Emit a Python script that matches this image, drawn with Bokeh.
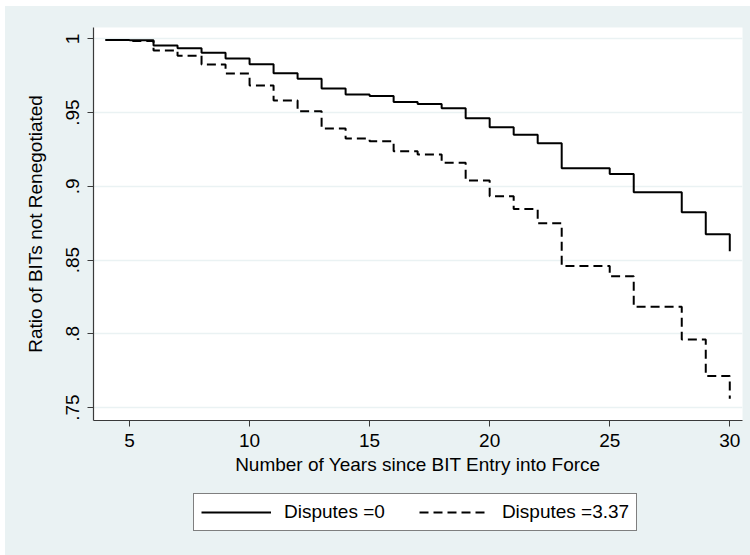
from bokeh.plotting import figure
from bokeh.models import Range1d, FixedTicker, Legend, LegendItem
from bokeh.layouts import column
from bokeh.embed import file_html
from bokeh.resources import INLINE

# Data
years = [4, 5, 6, 7, 8, 9, 10, 11, 12, 13, 14, 15, 16, 17, 18, 19, 20,
         21, 22, 23, 24, 25, 26, 27, 28, 29, 30]
surv_disputes_0 = [0.9993, 0.9991, 0.9955, 0.9937, 0.9905, 0.9866, 0.9828,
                   0.9767, 0.9729, 0.9663, 0.9622, 0.9613, 0.9572, 0.9559,
                   0.9530, 0.9462, 0.9400, 0.9349, 0.9292, 0.9123, 0.9123,
                   0.9083, 0.8960, 0.8960, 0.8824, 0.8675, 0.8560]
surv_disputes_337 = [0.9993, 0.9985, 0.9921, 0.9885, 0.9826, 0.9765, 0.9684,
                     0.9582, 0.9509, 0.9392, 0.9324, 0.9306, 0.9238, 0.9216,
                     0.9160, 0.9040, 0.8932, 0.8846, 0.8750, 0.8460, 0.8460,
                     0.8390, 0.8183, 0.8183, 0.7961, 0.7713, 0.7560]
x_ticks = [5, 10, 15, 20, 25, 30]
y_ticks = [0.75, 0.8, 0.85, 0.9, 0.95, 1.0]
y_tick_labels = [".75", ".8", ".85", ".9", ".95", "1"]
series_labels = ["Disputes =0", "Disputes =3.37"]

FONT = "Liberation Sans"
BG = "#EAF2F3"
DASH = "9 5"

p = figure(width=745, height=479, output_backend="svg", toolbar_location=None,
           x_range=Range1d(3.5, 30.53), y_range=Range1d(0.7412, 1.0077),
           min_border_left=88, min_border_right=8, min_border_top=21,
           min_border_bottom=65)
p.background_fill_color = "white"
p.border_fill_color = BG
p.outline_line_color = None

p.step(years, surv_disputes_0, mode="after", line_color="black", line_width=2)
p.step(years, surv_disputes_337, mode="after", line_color="black", line_width=2,
       line_dash=DASH)

# Axes
for ax in (p.xaxis[0], p.yaxis[0]):
    ax.axis_line_color = "#3a3a3a"
    ax.axis_line_width = 1.2
    ax.major_tick_line_color = "#3a3a3a"
    ax.major_tick_out = 6
    ax.major_tick_in = 0
    ax.minor_tick_line_color = None
    ax.major_label_text_font = FONT
    ax.major_label_text_font_size = "19px"
    ax.major_label_text_color = "black"
    ax.axis_label_text_font = FONT
    ax.axis_label_text_font_size = "19px"
    ax.axis_label_text_font_style = "normal"
    ax.axis_label_text_color = "black"

p.xaxis.ticker = FixedTicker(ticks=x_ticks)
p.xaxis.axis_label = "Number of Years since BIT Entry into Force"
p.xaxis.major_label_standoff = 7
p.xaxis.axis_label_standoff = 4

p.yaxis.ticker = FixedTicker(ticks=y_ticks)
p.yaxis.major_label_overrides = {t: l for t, l in zip(y_ticks, y_tick_labels)}
p.yaxis.major_label_orientation = "vertical"
p.yaxis.axis_label = "Ratio of BITs not Renegotiated"
p.yaxis.major_label_standoff = 8
p.yaxis.axis_label_standoff = 18

p.xgrid.grid_line_color = None
p.ygrid.grid_line_color = BG
p.ygrid.grid_line_width = 1.5

# Legend strip below the plot
lg = figure(width=745, height=70, output_backend="svg", toolbar_location=None,
            x_range=Range1d(0, 1), y_range=Range1d(0, 1),
            x_axis_location=None, y_axis_location=None,
            min_border_left=0, min_border_right=0, min_border_top=0,
            min_border_bottom=0)
lg.background_fill_color = BG
lg.border_fill_color = BG
lg.outline_line_color = None
lg.xgrid.grid_line_color = None
lg.ygrid.grid_line_color = None
d0 = lg.line(x=[-5, -4], y=[-5, -5], line_color="black", line_width=2)
d1 = lg.line(x=[-5, -4], y=[-5, -5], line_color="black", line_width=2, line_dash=DASH)

legend = Legend(items=[LegendItem(label=series_labels[0], renderers=[d0]),
                       LegendItem(label=series_labels[1], renderers=[d1])],
                orientation="horizontal", location=(100, 24))
legend.label_text_font = FONT
legend.label_text_font_size = "19px"
legend.label_text_color = "black"
legend.border_line_color = "black"
legend.border_line_width = 1
legend.background_fill_color = "white"
legend.background_fill_alpha = 1.0
legend.glyph_width = 70
legend.glyph_height = 20
legend.label_standoff = 13
legend.spacing = 34
legend.padding = 7
legend.margin = 0
lg.add_layout(legend, "center")

page = column(p, lg, spacing=0, margin=(6, 0, 0, 5),
              styles={"background-color": BG})
open("out.html", "w").write(file_html(page, INLINE))
